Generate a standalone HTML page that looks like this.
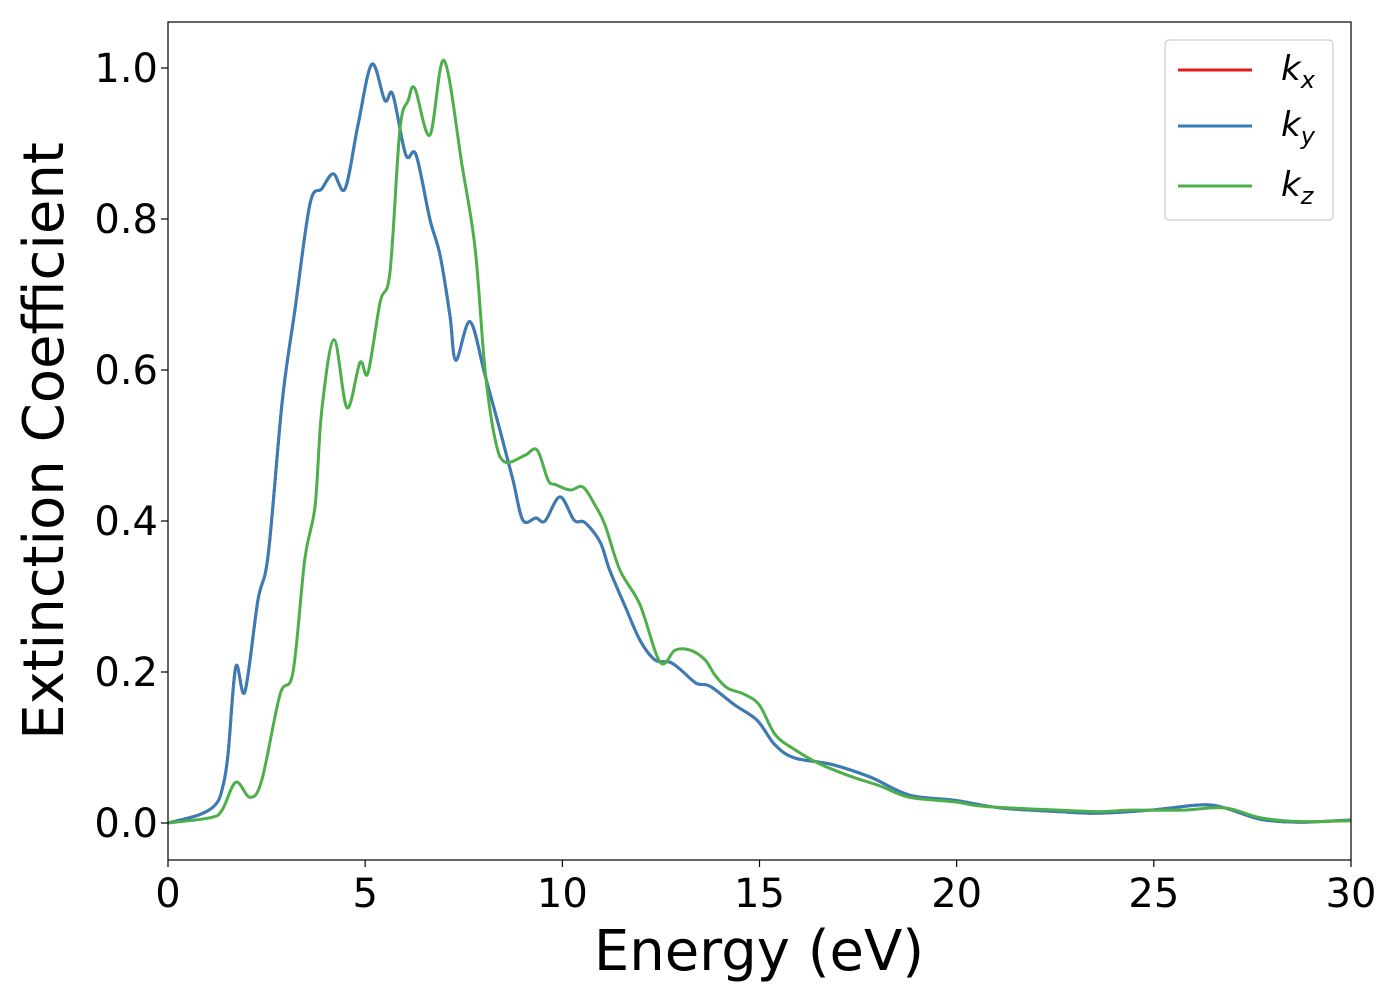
<!DOCTYPE html>
<html><head><meta charset="utf-8"><style>
body{margin:0;background:#fff;}
svg text{font-family:"DejaVu Sans","Liberation Sans",sans-serif;}
</style></head><body>
<svg id="chart" width="1400" height="1000" xmlns="http://www.w3.org/2000/svg">
<g id="plot"></g>
</svg>
<script>
const energyB=[0,0.8,1.2,1.37,1.52,1.72,1.95,2.28,2.54,2.9,3.22,3.6,3.9,4.19,4.49,4.82,5.17,5.5,5.7,6.03,6.29,6.64,6.9,7.15,7.3,7.66,8.04,8.42,8.75,9.0,9.33,9.56,9.94,10.3,10.57,10.96,11.2,11.6,11.97,12.35,12.73,13.0,13.4,13.75,14.38,14.94,15.4,15.9,16.8,17.8,18.8,19.96,21.1,22.6,23.6,24.9,26.2,26.8,27.7,28.7,30];
const kxy=[0,0.011,0.024,0.044,0.09,0.207,0.174,0.295,0.355,0.56,0.68,0.82,0.84,0.86,0.84,0.925,1.005,0.957,0.965,0.885,0.885,0.8,0.752,0.672,0.613,0.664,0.593,0.52,0.454,0.401,0.404,0.40,0.432,0.401,0.398,0.372,0.335,0.286,0.242,0.216,0.213,0.203,0.185,0.181,0.156,0.136,0.103,0.086,0.078,0.061,0.037,0.030,0.02,0.015,0.013,0.017,0.024,0.02,0.005,0.001,0.004];
const energyZ=[0,1.07,1.37,1.72,2.08,2.38,2.84,3.17,3.47,3.73,3.9,4.21,4.54,4.87,5.07,5.38,5.63,5.88,6.09,6.26,6.64,7.0,7.46,7.79,8.04,8.3,8.55,9.05,9.36,9.64,9.84,10.2,10.52,10.83,11.08,11.46,11.97,12.48,12.86,13.24,13.62,13.87,14.18,14.63,15.0,15.4,15.9,16.5,17.3,18.06,18.8,19.96,20.7,22.6,23.6,24.4,25.7,26.8,27.7,28.7,30];
const kz=[0,0.007,0.017,0.054,0.034,0.057,0.17,0.2,0.35,0.42,0.547,0.64,0.55,0.61,0.596,0.69,0.73,0.918,0.957,0.973,0.911,1.01,0.87,0.76,0.6,0.507,0.478,0.487,0.494,0.454,0.448,0.441,0.445,0.421,0.395,0.335,0.289,0.213,0.229,0.229,0.216,0.196,0.179,0.17,0.156,0.117,0.097,0.079,0.062,0.049,0.034,0.028,0.022,0.017,0.015,0.017,0.017,0.02,0.007,0.002,0.003];
const xTicks=[0,5,10,15,20,25,30];
const yTicks=[0.0,0.2,0.4,0.6,0.8,1.0];

const X0=168,X1=1351,Y0=22,Y1=860;
const sx=v=>X0+(v-0)/30*(X1-X0);
const sy=v=>823-v*755;
const NS="http://www.w3.org/2000/svg";
const g=document.getElementById('plot');
function el(t,a,p){const e=document.createElementNS(NS,t);for(const k in a)e.setAttribute(k,a[k]);(p||g).appendChild(e);return e;}
function path(xs,ys){const p=xs.map((x,i)=>[sx(x),sy(ys[i])]);let d=`M${p[0][0]},${p[0][1]}`;
for(let i=0;i<p.length-1;i++){const a=p[Math.max(0,i-1)],b=p[i],c=p[i+1],e=p[Math.min(p.length-1,i+2)];
d+=` C${b[0]+(c[0]-a[0])/6},${b[1]+(c[1]-a[1])/6} ${c[0]-(e[0]-b[0])/6},${c[1]-(e[1]-b[1])/6} ${c[0]},${c[1]}`;}return d;}
const clip=el('clipPath',{id:'cp'});el('rect',{x:X0,y:Y0,width:X1-X0,height:Y1-Y0},clip);
const sr=[['series-kx',energyB,kxy,'#e41a1c'],['series-ky',energyB,kxy,'#377eb8'],['series-kz',energyZ,kz,'#4daf4a']];
sr.forEach(s=>{const e=el('path',{d:path(s[1],s[2]),fill:'none',stroke:s[3],'stroke-width':3,'clip-path':'url(#cp)'});

});
const fr=el('rect',{x:X0,y:Y0,width:X1-X0,height:Y1-Y0,fill:'none',stroke:'#000','stroke-width':1.2});


xTicks.forEach(t=>{el('line',{x1:sx(t),x2:sx(t),y1:Y1,y2:Y1+7,stroke:'#000','stroke-width':1.2});
const tx=el('text',{x:sx(t),y:907,'font-size':40,'text-anchor':'middle'});tx.textContent=t;

});
yTicks.forEach(t=>{el('line',{x1:X0-7,x2:X0,y1:sy(t),y2:sy(t),stroke:'#000','stroke-width':1.2});
const tx=el('text',{x:158,y:sy(t)+14,'font-size':40,'text-anchor':'end'});tx.textContent=t.toFixed(1);

});
const xl=el('text',{x:759,y:970,'font-size':56,'text-anchor':'middle'});xl.textContent='Energy (eV)';


const yl=el('text',{x:0,y:0,'font-size':56,'text-anchor':'middle',transform:'translate(63,441) rotate(-90)'});yl.textContent='Extinction Coefficient';


const lg=el('g',{});


el('rect',{x:1165,y:40,width:168,height:180,rx:4,fill:'#fff',stroke:'#ccc','stroke-width':1.2},lg);
[['x','#e41a1c',70],['y','#377eb8',126],['z','#4daf4a',186]].forEach(l=>{
el('line',{x1:1178,x2:1252,y1:l[2],y2:l[2],stroke:l[1],'stroke-width':3},lg);
const t=el('text',{x:1281,y:l[2]+10,'font-size':34,'font-style':'italic'},lg);


t.innerHTML='k<tspan font-size="24" dy="8">'+l[0]+'</tspan>';});
</script>
</body></html>
